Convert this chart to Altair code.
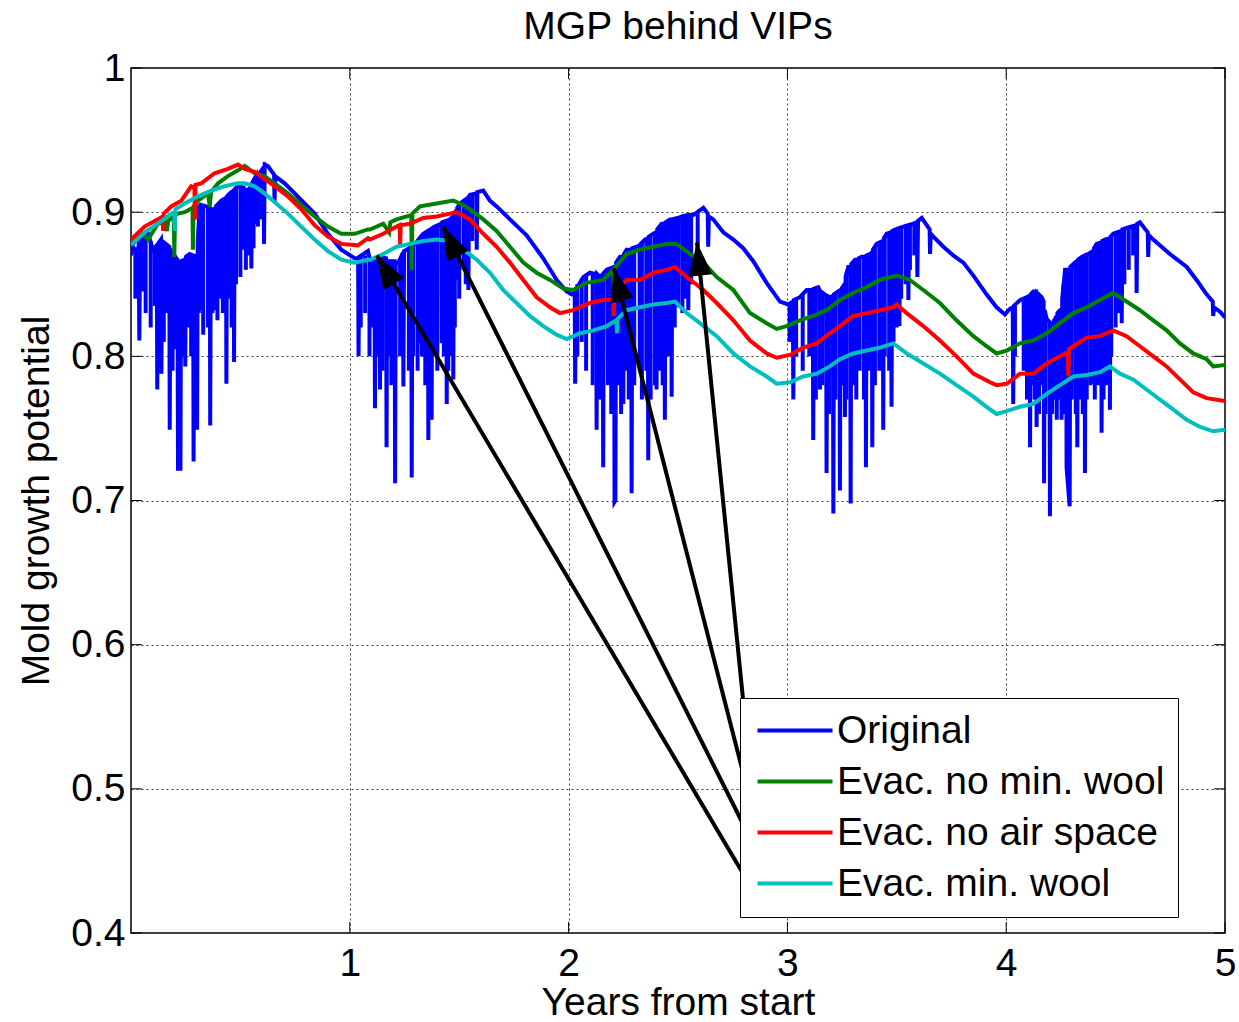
import math
import altair as alt
import pandas as pd

# ---------------- data ----------------
series_names = ["Original", "Evac. no min. wool", "Evac. no air space", "Evac. min. wool"]
series_colors = ["#0000FF", "#008000", "#FF0000", "#00BFBF"]

original = [
    (0.000, 0.870), (0.010, 0.878),
    (0.035, 0.883), (0.038, 0.811), (0.042, 0.880),
    (0.078, 0.885), (0.100, 0.874),
    (0.118, 0.877), (0.120, 0.777), (0.123, 0.878),
    (0.137, 0.881), (0.139, 0.788), (0.142, 0.880),
    (0.175, 0.876), (0.177, 0.749), (0.180, 0.874),
    (0.212, 0.867), (0.215, 0.722), (0.226, 0.722), (0.229, 0.866),
    (0.246, 0.867), (0.248, 0.793), (0.251, 0.869),
    (0.268, 0.871), (0.284, 0.870), (0.286, 0.727), (0.289, 0.868), (0.300, 0.870), (0.302, 0.749), (0.305, 0.880),
    (0.316, 0.906), (0.318, 0.832), (0.321, 0.905),
    (0.344, 0.904), (0.360, 0.903), (0.362, 0.752), (0.365, 0.902),
    (0.383, 0.902), (0.385, 0.832), (0.388, 0.904),
    (0.413, 0.908), (0.434, 0.910), (0.436, 0.781), (0.439, 0.911),
    (0.451, 0.913), (0.469, 0.915), (0.471, 0.796), (0.474, 0.916),
    (0.489, 0.918), (0.514, 0.917), (0.516, 0.874), (0.519, 0.916),
    (0.535, 0.915), (0.548, 0.918), (0.550, 0.861), (0.553, 0.920),
    (0.571, 0.925), (0.573, 0.892), (0.576, 0.926),
    (0.588, 0.927), (0.606, 0.931), (0.608, 0.878), (0.611, 0.933),
    (0.626, 0.932), (0.654, 0.926), (0.656, 0.907), (0.659, 0.925),
    (0.702, 0.920), (0.748, 0.913), (0.793, 0.906), (0.839, 0.899), (0.900, 0.885), (0.961, 0.874),
    (1.022, 0.868), (1.038, 0.868), (1.040, 0.800), (1.043, 0.869),
    (1.083, 0.873), (1.092, 0.867),
    (1.113, 0.866), (1.115, 0.764), (1.118, 0.868),
    (1.136, 0.869), (1.138, 0.777), (1.141, 0.869),
    (1.166, 0.868), (1.168, 0.737), (1.171, 0.866),
    (1.205, 0.866), (1.207, 0.712), (1.210, 0.865),
    (1.222, 0.865), (1.243, 0.872), (1.245, 0.779), (1.248, 0.873),
    (1.260, 0.874), (1.281, 0.876), (1.283, 0.716), (1.286, 0.877),
    (1.298, 0.878), (1.319, 0.882), (1.321, 0.809), (1.324, 0.883),
    (1.336, 0.885), (1.357, 0.887), (1.359, 0.742), (1.362, 0.887), (1.372, 0.888), (1.374, 0.756), (1.377, 0.889),
    (1.389, 0.890), (1.418, 0.892), (1.420, 0.809), (1.423, 0.893), (1.441, 0.894), (1.443, 0.767), (1.446, 0.894),
    (1.458, 0.895), (1.471, 0.897), (1.473, 0.784), (1.476, 0.899), (1.486, 0.901), (1.488, 0.853), (1.491, 0.903),
    (1.504, 0.906), (1.540, 0.910), (1.542, 0.846), (1.545, 0.911),
    (1.549, 0.912), (1.578, 0.913), (1.580, 0.874), (1.583, 0.914),
    (1.610, 0.915), (1.640, 0.908), (1.671, 0.904), (1.732, 0.895), (1.808, 0.884), (1.884, 0.868), (1.945, 0.853), (1.991, 0.845),
    (2.014, 0.843), (2.028, 0.845), (2.030, 0.781), (2.033, 0.846),
    (2.067, 0.855), (2.097, 0.858), (2.126, 0.857), (2.128, 0.749), (2.131, 0.857),
    (2.144, 0.855), (2.156, 0.857), (2.158, 0.723), (2.161, 0.858),
    (2.174, 0.860), (2.208, 0.862), (2.210, 0.699), (2.214, 0.700), (2.217, 0.865),
    (2.235, 0.869), (2.248, 0.869), (2.250, 0.767), (2.253, 0.871),
    (2.265, 0.874), (2.286, 0.874), (2.288, 0.705), (2.291, 0.875),
    (2.311, 0.876), (2.324, 0.877), (2.326, 0.793), (2.329, 0.878),
    (2.349, 0.881), (2.362, 0.882), (2.364, 0.728), (2.367, 0.883),
    (2.387, 0.885), (2.400, 0.886), (2.402, 0.777), (2.405, 0.888),
    (2.425, 0.892), (2.438, 0.892), (2.440, 0.756), (2.443, 0.893),
    (2.463, 0.895), (2.469, 0.895), (2.471, 0.772), (2.474, 0.895),
    (2.499, 0.896), (2.501, 0.834), (2.504, 0.896),
    (2.517, 0.897), (2.545, 0.898), (2.547, 0.832), (2.550, 0.898),
    (2.570, 0.898), (2.616, 0.903), (2.636, 0.899), (2.638, 0.876), (2.641, 0.897),
    (2.661, 0.895), (2.707, 0.886), (2.753, 0.881), (2.798, 0.875), (2.844, 0.866), (2.905, 0.851), (2.966, 0.838), (3.004, 0.836),
    (3.025, 0.838), (3.027, 0.770), (3.030, 0.839),
    (3.057, 0.841), (3.088, 0.846), (3.116, 0.846), (3.118, 0.742), (3.121, 0.847),
    (3.141, 0.848), (3.147, 0.846), (3.149, 0.777), (3.152, 0.845),
    (3.177, 0.842), (3.179, 0.719), (3.182, 0.842),
    (3.194, 0.841), (3.208, 0.842), (3.210, 0.691), (3.213, 0.843),
    (3.232, 0.845), (3.238, 0.844), (3.240, 0.707), (3.243, 0.846),
    (3.261, 0.850), (3.263, 0.758), (3.266, 0.855),
    (3.278, 0.862), (3.287, 0.862), (3.289, 0.698), (3.292, 0.864),
    (3.309, 0.867), (3.322, 0.867), (3.324, 0.797), (3.327, 0.868),
    (3.339, 0.869), (3.357, 0.869), (3.359, 0.723), (3.362, 0.870),
    (3.377, 0.871), (3.386, 0.872), (3.388, 0.737), (3.391, 0.874),
    (3.408, 0.878), (3.436, 0.880), (3.438, 0.749), (3.441, 0.882),
    (3.454, 0.885), (3.474, 0.886), (3.476, 0.765), (3.479, 0.887),
    (3.492, 0.888), (3.510, 0.889), (3.512, 0.821), (3.515, 0.889),
    (3.530, 0.890), (3.551, 0.891), (3.553, 0.839), (3.556, 0.891),
    (3.575, 0.892), (3.592, 0.893), (3.594, 0.855), (3.597, 0.894),
    (3.614, 0.896), (3.650, 0.888), (3.652, 0.871), (3.655, 0.885),
    (3.667, 0.883), (3.713, 0.876), (3.758, 0.870), (3.804, 0.865), (3.850, 0.856), (3.910, 0.843), (3.956, 0.834), (3.994, 0.829),
    (4.017, 0.833), (4.030, 0.834), (4.032, 0.767), (4.035, 0.835),
    (4.063, 0.839), (4.107, 0.842), (4.109, 0.737), (4.112, 0.843),
    (4.124, 0.845), (4.137, 0.845), (4.139, 0.751), (4.142, 0.844),
    (4.162, 0.841), (4.171, 0.838), (4.173, 0.712), (4.176, 0.832),
    (4.185, 0.826), (4.198, 0.824), (4.200, 0.689), (4.203, 0.823),
    (4.215, 0.823), (4.229, 0.828), (4.231, 0.756), (4.234, 0.830),
    (4.246, 0.832), (4.251, 0.832), (4.253, 0.756), (4.256, 0.840),
    (4.269, 0.860), (4.274, 0.860), (4.276, 0.723), (4.290, 0.696), (4.293, 0.862),
    (4.314, 0.865), (4.323, 0.866), (4.325, 0.737), (4.328, 0.867),
    (4.345, 0.869), (4.358, 0.870), (4.360, 0.719), (4.363, 0.870),
    (4.375, 0.871), (4.396, 0.873), (4.398, 0.781), (4.401, 0.875),
    (4.413, 0.878), (4.434, 0.879), (4.436, 0.747), (4.439, 0.880),
    (4.451, 0.881), (4.472, 0.882), (4.474, 0.763), (4.477, 0.883),
    (4.489, 0.885), (4.526, 0.887), (4.528, 0.823), (4.531, 0.888),
    (4.550, 0.889), (4.594, 0.891), (4.596, 0.844), (4.599, 0.892),
    (4.611, 0.893), (4.647, 0.886), (4.649, 0.869), (4.652, 0.884),
    (4.672, 0.881), (4.748, 0.871), (4.825, 0.862), (4.870, 0.853), (4.916, 0.843), (4.944, 0.838), (4.946, 0.828), (4.950, 0.834),
    (4.977, 0.831), (5.000, 0.827),
]

# extra dips of the Original curve that fill its dense parts: (x, low, high)
original_dips = [
    (0.020, 0.840, 0.876), (0.055, 0.845, 0.884), (0.067, 0.830, 0.884), (0.090, 0.820, 0.880), (0.108, 0.835, 0.876),
    (0.130, 0.800, 0.880), (0.150, 0.810, 0.878), (0.160, 0.830, 0.876), (0.190, 0.790, 0.872), (0.200, 0.805, 0.868),
    (0.236, 0.800, 0.867), (0.260, 0.820, 0.869), (0.275, 0.800, 0.871), (0.295, 0.810, 0.869), (0.310, 0.830, 0.905),
    (0.330, 0.815, 0.905), (0.352, 0.820, 0.904), (0.372, 0.830, 0.903), (0.395, 0.825, 0.905), (0.405, 0.840, 0.907),
    (0.420, 0.830, 0.909), (0.445, 0.840, 0.912), (0.460, 0.820, 0.914), (0.480, 0.850, 0.917), (0.500, 0.855, 0.918),
    (0.525, 0.860, 0.916), (0.540, 0.870, 0.916), (0.560, 0.875, 0.922), (0.580, 0.890, 0.926), (0.595, 0.895, 0.929),
    (1.050, 0.820, 0.869), (1.070, 0.830, 0.870), (1.090, 0.800, 0.867), (1.100, 0.820, 0.866), (1.125, 0.800, 0.867),
    (1.150, 0.790, 0.869), (1.180, 0.800, 0.867), (1.190, 0.780, 0.866), (1.230, 0.800, 0.866), (1.270, 0.790, 0.875),
    (1.290, 0.800, 0.877), (1.310, 0.790, 0.880), (1.330, 0.800, 0.884), (1.345, 0.780, 0.886), (1.385, 0.800, 0.889),
    (1.400, 0.790, 0.891), (1.430, 0.800, 0.893), (1.450, 0.790, 0.895), (1.465, 0.800, 0.896), (1.480, 0.820, 0.900),
    (1.500, 0.840, 0.905), (1.520, 0.860, 0.908), (1.530, 0.850, 0.909), (1.560, 0.880, 0.912),
    (2.040, 0.800, 0.850), (2.060, 0.810, 0.854), (2.080, 0.790, 0.856), (2.110, 0.780, 0.858), (2.140, 0.770, 0.855),
    (2.180, 0.780, 0.860), (2.195, 0.760, 0.861), (2.225, 0.780, 0.866), (2.240, 0.760, 0.869), (2.260, 0.790, 0.872),
    (2.275, 0.770, 0.874), (2.300, 0.780, 0.875), (2.335, 0.770, 0.879), (2.355, 0.790, 0.881), (2.375, 0.770, 0.884),
    (2.395, 0.780, 0.886), (2.415, 0.790, 0.890), (2.430, 0.780, 0.892), (2.455, 0.800, 0.894), (2.485, 0.820, 0.895),
    (2.520, 0.830, 0.897), (2.535, 0.840, 0.897), (2.560, 0.850, 0.898), (2.590, 0.870, 0.900),
    (3.010, 0.810, 0.836), (3.040, 0.800, 0.839), (3.070, 0.790, 0.843), (3.100, 0.800, 0.846), (3.130, 0.770, 0.847),
    (3.160, 0.780, 0.845), (3.190, 0.760, 0.841), (3.220, 0.770, 0.843), (3.250, 0.780, 0.846), (3.270, 0.770, 0.858),
    (3.300, 0.780, 0.865), (3.315, 0.770, 0.867), (3.330, 0.790, 0.868), (3.350, 0.770, 0.869), (3.370, 0.790, 0.871),
    (3.400, 0.780, 0.876), (3.420, 0.790, 0.879), (3.445, 0.800, 0.883), (3.465, 0.790, 0.886), (3.485, 0.810, 0.888),
    (3.500, 0.820, 0.889), (3.520, 0.840, 0.890), (3.540, 0.850, 0.890), (3.560, 0.860, 0.892), (3.580, 0.870, 0.893),
    (4.040, 0.800, 0.835), (4.080, 0.790, 0.840), (4.095, 0.770, 0.841), (4.115, 0.780, 0.844), (4.130, 0.770, 0.845),
    (4.150, 0.760, 0.843), (4.165, 0.780, 0.840), (4.180, 0.760, 0.828), (4.210, 0.760, 0.823), (4.220, 0.770, 0.826),
    (4.240, 0.770, 0.831), (4.262, 0.760, 0.850), (4.283, 0.750, 0.861), (4.300, 0.770, 0.863), (4.318, 0.760, 0.865),
    (4.335, 0.770, 0.868), (4.350, 0.760, 0.869), (4.368, 0.770, 0.870), (4.385, 0.780, 0.872), (4.405, 0.770, 0.876),
    (4.420, 0.780, 0.878), (4.445, 0.770, 0.880), (4.460, 0.780, 0.881), (4.480, 0.800, 0.884), (4.500, 0.820, 0.885),
    (4.515, 0.830, 0.886), (4.540, 0.850, 0.888), (4.560, 0.860, 0.889), (4.580, 0.870, 0.890),
]

no_min_wool = [
    (0.000, 0.879), (0.047, 0.886), (0.078, 0.881), (0.123, 0.892), (0.154, 0.893), (0.164, 0.887), (0.170, 0.894),
    (0.196, 0.897), (0.198, 0.869), (0.201, 0.898), (0.215, 0.899), (0.245, 0.900), (0.281, 0.903), (0.283, 0.874),
    (0.286, 0.904), (0.306, 0.908), (0.352, 0.913), (0.360, 0.904), (0.366, 0.914), (0.398, 0.920), (0.443, 0.925),
    (0.489, 0.929), (0.520, 0.932), (0.565, 0.927), (0.610, 0.925), (0.656, 0.920), (0.717, 0.913), (0.778, 0.905),
    (0.839, 0.897), (0.900, 0.890), (0.961, 0.885), (1.022, 0.885), (1.083, 0.888), (1.092, 0.888), (1.153, 0.892),
    (1.180, 0.886), (1.185, 0.893), (1.214, 0.895), (1.281, 0.898), (1.283, 0.860), (1.286, 0.899), (1.321, 0.904),
    (1.397, 0.906), (1.473, 0.908), (1.504, 0.906), (1.549, 0.902), (1.610, 0.895), (1.671, 0.887), (1.732, 0.876),
    (1.793, 0.865), (1.854, 0.858), (1.915, 0.853), (1.976, 0.847), (2.021, 0.846), (2.082, 0.851), (2.158, 0.853),
    (2.204, 0.860), (2.206, 0.848), (2.209, 0.861), (2.265, 0.871), (2.326, 0.874), (2.387, 0.876), (2.448, 0.878),
    (2.494, 0.878), (2.555, 0.871), (2.616, 0.865), (2.677, 0.855), (2.753, 0.846), (2.829, 0.830), (2.905, 0.823),
    (2.951, 0.819), (2.996, 0.821), (3.057, 0.825), (3.118, 0.828), (3.179, 0.832), (3.240, 0.839), (3.301, 0.844),
    (3.362, 0.848), (3.423, 0.853), (3.499, 0.856), (3.560, 0.853), (3.621, 0.846), (3.697, 0.837), (3.773, 0.825),
    (3.850, 0.814), (3.910, 0.807), (3.956, 0.802), (4.002, 0.804), (4.063, 0.809), (4.124, 0.811), (4.185, 0.816),
    (4.246, 0.823), (4.307, 0.830), (4.368, 0.834), (4.429, 0.839), (4.489, 0.844), (4.550, 0.838), (4.611, 0.832),
    (4.672, 0.825), (4.733, 0.818), (4.794, 0.809), (4.855, 0.802), (4.916, 0.798), (4.946, 0.793), (5.000, 0.794),
]

no_air_space = [
    (0.000, 0.881), (0.062, 0.890), (0.123, 0.895), (0.145, 0.897), (0.147, 0.887), (0.150, 0.899), (0.184, 0.904),
    (0.230, 0.908), (0.275, 0.918), (0.290, 0.917), (0.292, 0.895), (0.295, 0.919), (0.321, 0.920), (0.382, 0.927),
    (0.443, 0.930), (0.489, 0.933), (0.520, 0.930), (0.565, 0.928), (0.610, 0.923), (0.656, 0.918), (0.717, 0.911),
    (0.778, 0.902), (0.839, 0.891), (0.900, 0.883), (0.961, 0.878), (1.037, 0.877), (1.083, 0.882), (1.092, 0.881),
    (1.153, 0.885), (1.214, 0.890), (1.228, 0.891), (1.230, 0.877), (1.233, 0.891), (1.275, 0.892), (1.336, 0.896),
    (1.397, 0.897), (1.458, 0.899), (1.488, 0.900), (1.549, 0.895), (1.610, 0.885), (1.671, 0.876), (1.732, 0.865),
    (1.793, 0.853), (1.854, 0.841), (1.915, 0.834), (1.960, 0.830), (2.021, 0.832), (2.097, 0.837), (2.158, 0.839),
    (2.204, 0.839), (2.206, 0.828), (2.209, 0.844), (2.265, 0.853), (2.326, 0.853), (2.387, 0.858), (2.448, 0.860),
    (2.486, 0.862), (2.540, 0.855), (2.616, 0.846), (2.677, 0.837), (2.753, 0.825), (2.829, 0.811), (2.905, 0.802),
    (2.951, 0.799), (3.012, 0.801), (3.072, 0.806), (3.134, 0.809), (3.194, 0.816), (3.240, 0.821), (3.301, 0.828),
    (3.362, 0.830), (3.423, 0.832), (3.484, 0.834), (3.499, 0.836), (3.545, 0.830), (3.621, 0.821), (3.697, 0.811),
    (3.773, 0.800), (3.850, 0.788), (3.926, 0.782), (3.956, 0.780), (4.002, 0.781), (4.063, 0.788), (4.124, 0.788),
    (4.185, 0.795), (4.246, 0.800), (4.282, 0.803), (4.284, 0.786), (4.287, 0.805), (4.307, 0.807), (4.368, 0.813),
    (4.429, 0.814), (4.489, 0.818), (4.550, 0.814), (4.611, 0.807), (4.672, 0.800), (4.733, 0.793), (4.794, 0.784),
    (4.855, 0.775), (4.916, 0.771), (5.000, 0.769),
]

min_wool = [
    (0.000, 0.877), (0.062, 0.886), (0.123, 0.892), (0.184, 0.899), (0.198, 0.900), (0.200, 0.887), (0.203, 0.902),
    (0.245, 0.906), (0.306, 0.911), (0.367, 0.915), (0.428, 0.918), (0.489, 0.920), (0.520, 0.920), (0.565, 0.918),
    (0.610, 0.913), (0.656, 0.907), (0.717, 0.899), (0.778, 0.890), (0.839, 0.881), (0.900, 0.873), (0.961, 0.867),
    (1.022, 0.865), (1.083, 0.867), (1.092, 0.867), (1.153, 0.871), (1.214, 0.876), (1.275, 0.878), (1.336, 0.880),
    (1.397, 0.881), (1.458, 0.880), (1.519, 0.874), (1.580, 0.867), (1.641, 0.858), (1.701, 0.846), (1.762, 0.837),
    (1.823, 0.828), (1.884, 0.821), (1.945, 0.815), (1.991, 0.812), (2.052, 0.816), (2.113, 0.818), (2.174, 0.821),
    (2.219, 0.825), (2.221, 0.816), (2.224, 0.826), (2.265, 0.832), (2.326, 0.834), (2.387, 0.836), (2.448, 0.837),
    (2.486, 0.838), (2.540, 0.830), (2.600, 0.823), (2.677, 0.814), (2.753, 0.802), (2.829, 0.793), (2.905, 0.786),
    (2.951, 0.781), (3.012, 0.782), (3.072, 0.786), (3.134, 0.788), (3.194, 0.793), (3.240, 0.798), (3.301, 0.802),
    (3.362, 0.804), (3.423, 0.806), (3.484, 0.809), (3.545, 0.802), (3.621, 0.795), (3.697, 0.788), (3.773, 0.780),
    (3.850, 0.772), (3.910, 0.765), (3.956, 0.760), (4.002, 0.762), (4.063, 0.765), (4.124, 0.767), (4.185, 0.774),
    (4.246, 0.780), (4.307, 0.786), (4.368, 0.787), (4.429, 0.789), (4.474, 0.793), (4.520, 0.788), (4.580, 0.784),
    (4.641, 0.777), (4.703, 0.770), (4.764, 0.763), (4.825, 0.756), (4.886, 0.751), (4.946, 0.748), (5.000, 0.749),
]

# annotation arrows: start (at legend) -> tip (on curves), data coordinates
arrow_x0 = [2.806, 2.806, 2.806, 2.806]
arrow_y0 = [0.549, 0.506, 0.473, 0.439]
arrow_x1 = [2.587, 2.207, 1.426, 1.124]
arrow_y1 = [0.879, 0.861, 0.890, 0.870]

x_ticks = [1, 2, 3, 4, 5]
y_ticks = [0.4, 0.5, 0.6, 0.7, 0.8, 0.9, 1.0]

# ---------------- layout / style ----------------
W, H = 1094, 865
FONT = "Liberation Sans"
FS = 39
LW = 4
XDOM, YDOM = [0, 5], [0.4, 1.0]

color_scale = alt.Scale(domain=series_names, range=series_colors)
xs = alt.Scale(domain=XDOM, nice=False, zero=False)
ys = alt.Scale(domain=YDOM, nice=False, zero=False)

axis_common = dict(grid=True, ticks=False, domain=False, labelFlush=False,
                   labelFont=FONT, labelFontSize=FS, labelColor="black",
                   titleFont=FONT, titleFontSize=FS, titleFontWeight="normal", titleColor="black",
                   gridColor="#404040", gridDash=[2, 3], gridWidth=1, gridOpacity=1)
x_axis = alt.Axis(values=x_ticks, format="d", title="Years from start",
                  labelPadding=11, titlePadding=0, **axis_common)
y_axis = alt.Axis(values=y_ticks, labelExpr="datum.value == 1 ? '1' : format(datum.value, '.1f')",
                  title="Mold growth potential", labelPadding=6, titlePadding=14, **axis_common)


def X(field):
    return alt.X(field, type="quantitative", scale=xs, axis=x_axis)


def Y(field):
    return alt.Y(field, type="quantitative", scale=ys, axis=y_axis)


legend = alt.Legend(orient="none", legendX=609, legendY=630, title=None,
                    symbolType="M-1,0 H4", symbolSize=900, symbolStrokeWidth=LW,
                    labelFont=FONT, labelFontSize=FS, labelOffset=45, labelColor="black",
                    strokeColor="black", fillColor="white", padding=13, rowPadding=11,
                    labelLimit=600)

series_frames = []
for name, pts in zip(series_names, [original, no_min_wool, no_air_space, min_wool]):
    series_frames.append(pd.DataFrame({"t": [p[0] for p in pts], "v": [p[1] for p in pts],
                                       "series": name, "i": range(len(pts))}))


def line_layer(df):
    return alt.Chart(df).mark_line(strokeWidth=LW, clip=True, strokeJoin="miter").encode(
        x=X("t"), y=Y("v"),
        color=alt.Color("series:N", scale=color_scale, legend=legend),
        order="i:Q",
    )


dips = pd.DataFrame({"t": [d[0] for d in original_dips], "lo": [d[1] for d in original_dips],
                     "hi": [d[2] for d in original_dips], "series": series_names[0]})
dip_layer = alt.Chart(dips).mark_rule(strokeWidth=LW, clip=True).encode(
    x=X("t"), y=Y("lo"), y2="hi:Q",
    color=alt.Color("series:N", scale=color_scale, legend=legend),
)

# arrows
arr = pd.DataFrame({"x0": arrow_x0, "y0": arrow_y0, "x1": arrow_x1, "y1": arrow_y1})
sx, sy = W / (XDOM[1] - XDOM[0]), H / (YDOM[1] - YDOM[0])
arr["ang"] = [
    (math.degrees(math.atan2((b - a) * sx, (d - c) * sy)) + 360) % 360
    for a, b, c, d in zip(arr.x0, arr.x1, arr.y0, arr.y1)
]
arrow_lines = alt.Chart(arr).mark_rule(color="black", strokeWidth=LW).encode(
    x=X("x0"), y=Y("y0"), x2="x1:Q", y2="y1:Q")
arrow_heads = alt.Chart(arr).mark_point(
    shape="M0,0 L-0.72,2 L0.72,2 Z", filled=True, color="black", size=1100, opacity=1
).encode(x=X("x1"), y=Y("y1"), angle=alt.Angle("ang:Q", scale=None))

# inward ticks on all four sides
yt = pd.DataFrame({"v": y_ticks})
xt = pd.DataFrame({"t": x_ticks})
tick_style = dict(color="black", strokeWidth=1)
ticks_left = alt.Chart(yt).mark_rule(**tick_style).encode(y=Y("v"), x=alt.value(0), x2=alt.value(11))
ticks_right = alt.Chart(yt).mark_rule(**tick_style).encode(y=Y("v"), x=alt.value(W - 11), x2=alt.value(W))
ticks_bottom = alt.Chart(xt).mark_rule(**tick_style).encode(x=X("t"), y=alt.value(H - 11), y2=alt.value(H))
ticks_top = alt.Chart(xt).mark_rule(**tick_style).encode(x=X("t"), y=alt.value(0), y2=alt.value(11))

chart = alt.layer(
    line_layer(series_frames[0]), dip_layer,
    line_layer(series_frames[1]), line_layer(series_frames[2]), line_layer(series_frames[3]),
    arrow_lines, arrow_heads, ticks_left, ticks_right, ticks_bottom, ticks_top
).properties(
    width=W, height=H,
    title=alt.TitleParams("MGP behind VIPs", font=FONT, fontSize=FS, fontWeight="normal",
                          color="black", offset=2, anchor="middle"),
    padding={"left": 131, "top": 68, "right": 14, "bottom": 89},
    autosize=alt.AutoSizeParams(type="none"),
    background="white",
).configure_view(
    stroke="black", strokeWidth=1.5
)

chart.save("out.html", embed_options={"renderer": "svg", "actions": False})
